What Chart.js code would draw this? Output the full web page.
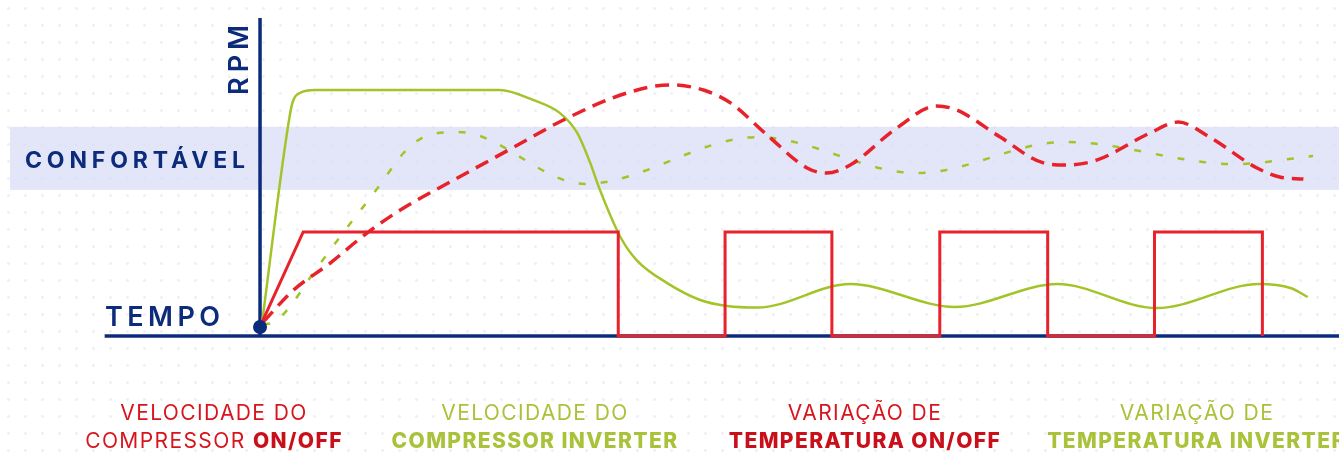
<!DOCTYPE html>
<html>
<head>
<meta charset="utf-8">
<script src="https://cdn.jsdelivr.net/npm/chart.js@4.4.1/dist/chart.umd.min.js"></script>
<style>
  html, body { margin: 0; padding: 0; background: #fff; }
  body {
    width: 1339px; height: 457px; position: relative; overflow: hidden;
    background-image: radial-gradient(circle, #f0f1f8 1.3px, transparent 1.7px);
    background-size: 17px 17px;
  }
  #chart { position: absolute; left: 0; top: 0; }
  .cap {
    position: absolute; top: 399px; width: 360px; text-align: center;
    font-family: Inter, "Open Sans", sans-serif; font-size: 21px; line-height: 28px;
    white-space: nowrap; letter-spacing: 1.4px;
  }
  .red { color: #d8141d; }
  .red b { color: #c9101a; }
  .green { color: #a9c23a; }
  b { font-weight: 800; }
</style>
</head>
<body>
<canvas id="chart" width="1339" height="457"></canvas>
<div class="cap red" style="left:34px">VELOCIDADE DO<br>COMPRESSOR <b>ON/OFF</b></div>
<div class="cap green" style="left:355px">VELOCIDADE DO<br><b>COMPRESSOR INVERTER</b></div>
<div class="cap red" style="left:685px">VARIAÇÃO DE<br><b>TEMPERATURA ON/OFF</b></div>
<div class="cap green" style="left:1017px">VARIAÇÃO DE<br><b>TEMPERATURA INVERTER</b></div>
<script>
// time (x) and rpm / temperature level (y)
var onOffT = [0.2, 4.0, 33.2, 33.2, 43.1, 43.1, 53.0, 53.0, 63.0, 63.0, 73.0, 73.0, 82.9, 82.9, 92.9, 92.9];
var onOffV = [4.7, 34.7, 34.7, 0, 0, 34.7, 34.7, 0, 0, 34.7, 34.7, 0, 0, 34.7, 34.7, 0];

var invT = [0.2, 2.4, 3.0, 3.7, 5.1, 22.2, 25.3, 27.8, 29.4, 30.6, 31.5, 33.4, 34.9, 37.7, 40.8, 43.3, 46.1, 54.7, 64.4, 73.9, 83.1, 92.6, 95.5, 97.1];
var invV = [4.7, 65.3, 77.7, 81.0, 82.0, 82.0, 78.7, 74.3, 67.7, 57.7, 48.7, 33.0, 25.3, 17.7, 12.0, 10.0, 9.5, 17.3, 9.7, 17.3, 9.3, 17.3, 16.0, 13.0];

var tempOnOffT = [0.3, 3.1, 6.5, 9.9, 13.0, 17.6, 23.4, 28.5, 34.0, 38.0, 41.1, 43.6, 47.0, 50.7, 52.5, 54.7, 59.0, 62.7, 64.6, 68.6, 72.6, 74.8, 77.6, 82.5, 85.1, 88.0, 92.4, 94.5, 96.7];
var tempOnOffV = [4.7, 15.3, 24.3, 34.3, 42.0, 51.3, 62.7, 72.7, 81.0, 83.7, 82.0, 77.7, 67.0, 56.0, 54.3, 57.0, 69.3, 76.7, 75.3, 66.3, 57.7, 57.0, 58.7, 67.7, 71.3, 66.3, 56.0, 53.0, 52.3];

var tempInvT = [0.3, 1.6, 5.6, 8.1, 10.9, 13.3, 15.0, 18.4, 30.1, 46.1, 60.9, 74.6, 90.4, 97.6];
var tempInvV = [3.7, 5.3, 24.3, 36.3, 49.3, 61.0, 66.0, 68.0, 50.7, 66.3, 54.3, 64.7, 57.3, 60.0];

// comfort band and axis extents
var comfortLow = 48.7, comfortHigh = 69.7;
var axisTop = 106, axisLeftEnd = -14.4;

function pts(xs, ys) {
  return xs.map(function (x, i) { return { x: x, y: ys[i] }; });
}

var navy = '#0c2b7b';
var red = '#e8222b';
var green = '#a3c428';

function spaced(ctx, str, x, y, width) {
  ctx.letterSpacing = '0px';
  var w = ctx.measureText(str).width;
  ctx.letterSpacing = ((width - w) / (str.length - 1)) + 'px';
  ctx.fillText(str, x, y);
  ctx.letterSpacing = '0px';
}

var backdrop = {
  id: 'backdrop',
  beforeDatasetsDraw: function (chart) {
    var ctx = chart.ctx, xs = chart.scales.x, ys = chart.scales.y;
    var x0 = xs.getPixelForValue(0), y0 = ys.getPixelForValue(0);
    ctx.save();
    // comfort band
    var top = ys.getPixelForValue(comfortHigh), bot = ys.getPixelForValue(comfortLow);
    ctx.fillStyle = 'rgba(215, 220, 245, 0.7)';
    ctx.fillRect(10, top, chart.width - 10, bot - top);
    // axes
    ctx.strokeStyle = navy;
    ctx.lineWidth = 3.5;
    ctx.beginPath();
    ctx.moveTo(x0, ys.getPixelForValue(axisTop));
    ctx.lineTo(x0, y0);
    ctx.stroke();
    ctx.beginPath();
    ctx.moveTo(xs.getPixelForValue(axisLeftEnd), y0);
    ctx.lineTo(chart.width, y0);
    ctx.stroke();
    // labels
    ctx.fillStyle = navy;
    ctx.textBaseline = 'alphabetic';
    ctx.textAlign = 'left';
    ctx.font = '700 23px Inter, sans-serif';
    spaced(ctx, 'CONFORTÁVEL', 25, 168, 220);
    ctx.font = '600 27px Inter, sans-serif';
    spaced(ctx, 'TEMPO', 105, 326, 115);
    ctx.translate(x0 - 12, 95);
    ctx.rotate(-Math.PI / 2);
    spaced(ctx, 'RPM', 0, 0, 70);
    ctx.restore();
  },
  afterDatasetsDraw: function (chart) {
    var ctx = chart.ctx, xs = chart.scales.x, ys = chart.scales.y;
    ctx.save();
    ctx.fillStyle = navy;
    ctx.beginPath();
    ctx.arc(xs.getPixelForValue(0), ys.getPixelForValue(3), 7, 0, Math.PI * 2);
    ctx.fill();
    ctx.restore();
  }
};

new Chart(document.getElementById('chart'), {
  type: 'line',
  data: {
    datasets: [
      {
        label: 'Velocidade do compressor ON/OFF',
        data: pts(onOffT, onOffV),
        borderColor: red, borderWidth: 3, tension: 0, borderJoinStyle: 'miter'
      },
      {
        label: 'Variação de temperatura ON/OFF',
        data: pts(tempOnOffT, tempOnOffV),
        borderColor: red, borderWidth: 3.5, borderDash: [14, 8],
        cubicInterpolationMode: 'monotone'
      },
      {
        label: 'Velocidade do compressor inverter',
        data: pts(invT, invV),
        borderColor: green, borderWidth: 2.5,
        cubicInterpolationMode: 'monotone'
      },
      {
        label: 'Variação de temperatura inverter',
        data: pts(tempInvT, tempInvV),
        borderColor: green, borderWidth: 2.5, borderDash: [7, 15],
        cubicInterpolationMode: 'monotone'
      }
    ]
  },
  options: {
    responsive: false,
    animation: false,
    devicePixelRatio: 1,
    layout: { padding: 0 },
    elements: { point: { radius: 0, hoverRadius: 0 } },
    scales: {
      x: { type: 'linear', min: -24.1, max: 100, display: false },
      y: { type: 'linear', min: -40.33, max: 112, display: false }
    },
    plugins: {
      legend: { display: false },
      tooltip: { enabled: false }
    }
  },
  plugins: [backdrop]
});
</script>
</body>
</html>
